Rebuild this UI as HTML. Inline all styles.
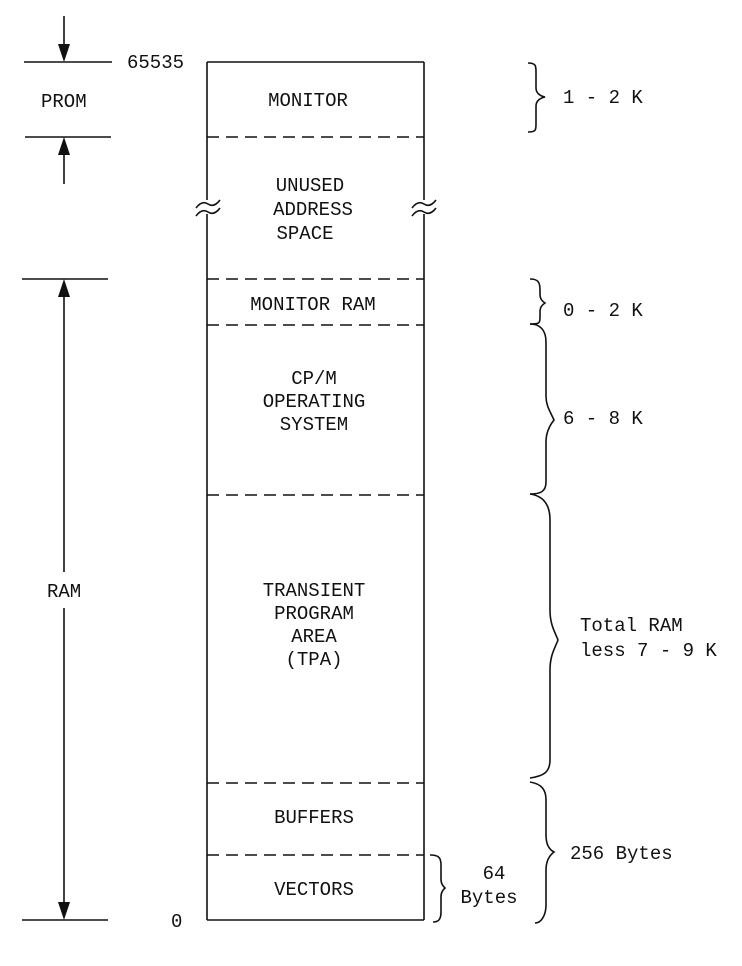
<!DOCTYPE html>
<html><head><meta charset="utf-8"><style>
html,body{margin:0;padding:0;background:#fff;}
svg{display:block}
text{font-family:"Liberation Mono",monospace;font-size:19px;fill:#111;}
</style></head><body>
<svg width="742" height="966" viewBox="0 0 742 966" xmlns="http://www.w3.org/2000/svg">
<g stroke="#111" stroke-width="1.6" fill="none">
<line x1="207" y1="62" x2="424" y2="62"/>
<line x1="207" y1="920" x2="424" y2="920"/>
<line x1="207" y1="62" x2="207" y2="200"/>
<line x1="207" y1="214" x2="207" y2="920"/>
<line x1="424" y1="62" x2="424" y2="200"/>
<line x1="424" y1="214" x2="424" y2="920"/>
<path d="M196 208 Q202 200 208 204 Q214 208 220 200"/>
<path d="M196 216 Q202 208 208 212 Q214 216 220 208"/>
<path d="M412 208 Q418 200 424 204 Q430 208 436 200"/>
<path d="M412 216 Q418 208 424 212 Q430 216 436 208"/>
<g stroke-dasharray="12,7">
<line x1="207" y1="137" x2="424" y2="137"/>
<line x1="207" y1="279" x2="424" y2="279"/>
<line x1="207" y1="325" x2="424" y2="325"/>
<line x1="207" y1="495" x2="424" y2="495"/>
<line x1="207" y1="783" x2="424" y2="783"/>
<line x1="207" y1="855" x2="424" y2="855"/>
</g>
<line x1="24" y1="62" x2="112" y2="62"/>
<line x1="25" y1="137" x2="111" y2="137"/>
<line x1="22" y1="279" x2="108" y2="279"/>
<line x1="22" y1="920" x2="108" y2="920"/>
<line x1="64" y1="16" x2="64" y2="50"/>
<line x1="64" y1="150" x2="64" y2="184"/>
<line x1="64" y1="292" x2="64" y2="572"/>
<line x1="64" y1="608" x2="64" y2="908"/>
<path d="M528 63 C536 63 536 66 536 72 L536 88 C536 93 540 96 545 97 C540 98 536 101 536 106 L536 124 C536 130 536 132 528 132"/>
<path d="M530 279 C538 279 540 282 540 290 L540 294 C540 299 542 301 545 303 C542 305 540 307 540 312 L540 318 C540 324 538 324 530 324"/>
<path d="M530 324 C540 324 546 330 546 342 L546 396 C546 406 550 411 554 420 C550 425 546 432 546 442 L546 482 C546 492 540 494 530 494"/>
<path d="M530 494 C544 496 550 505 550 520 L550 610 C550 625 555 632 558 640 C555 648 550 655 550 670 L550 760 C550 772 544 776 530 778"/>
<path d="M530 782 C542 784 546 790 546 800 L546 835 C546 845 550 850 554 852 C550 855 546 860 546 870 L546 905 C546 914 542 923 535 923"/>
<path d="M430 855 C438 855 441 857 441 865 L441 879 C441 884 443 886 445 888 C443 890 441 892 441 897 L441 912 C441 920 438 922 433 922"/>
</g>
<g fill="#111">
<polygon points="58,44 70,44 64,62"/>
<polygon points="58,155 70,155 64,137"/>
<polygon points="58,297 70,297 64,279"/>
<polygon points="58,902 70,902 64,920"/>
</g>
<text x="127" y="68">65535</text>
<text x="41" y="107">PROM</text>
<text x="47" y="597">RAM</text>
<text x="171" y="927">0</text>
<g text-anchor="middle">
<text x="308" y="106">MONITOR</text>
<text x="310" y="191">UNUSED</text>
<text x="313" y="215">ADDRESS</text>
<text x="305" y="239">SPACE</text>
<text x="313" y="310">MONITOR RAM</text>
<text x="314" y="384">CP/M</text>
<text x="314" y="407">OPERATING</text>
<text x="314" y="430">SYSTEM</text>
<text x="314" y="596">TRANSIENT</text>
<text x="314" y="619">PROGRAM</text>
<text x="314" y="642">AREA</text>
<text x="314" y="665">(TPA)</text>
<text x="314" y="823">BUFFERS</text>
<text x="314" y="895">VECTORS</text>
<text x="494" y="879">64</text>
<text x="489" y="903">Bytes</text>
</g>
<text x="563" y="103">1 - 2 K</text>
<text x="563" y="316">0 - 2 K</text>
<text x="563" y="424">6 - 8 K</text>
<text x="580" y="631">Total RAM</text>
<text x="580" y="656">less 7 - 9 K</text>
<text x="570" y="859">256 Bytes</text>
</svg>
</body></html>
